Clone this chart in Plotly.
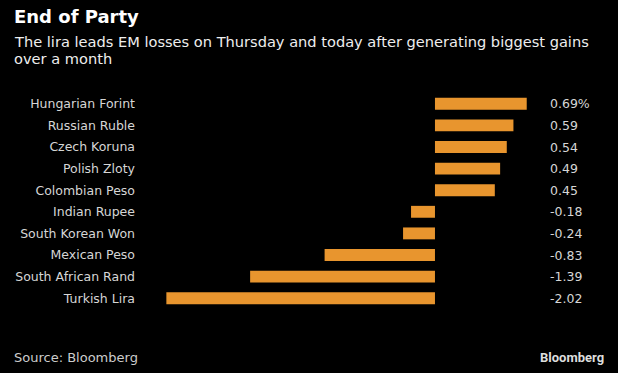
import plotly.graph_objects as go

categories = ["Hungarian Forint", "Russian Ruble", "Czech Koruna", "Polish Zloty",
              "Colombian Peso", "Indian Rupee", "South Korean Won", "Mexican Peso",
              "South African Rand", "Turkish Lira"]
values = [0.69, 0.59, 0.54, 0.49, 0.45, -0.18, -0.24, -0.83, -1.39, -2.02]
value_labels = ["0.69%", "0.59", "0.54", "0.49", "0.45", "-0.18", "-0.24", "-0.83", "-1.39", "-2.02"]

FONT = "DejaVu Sans"
BAR = "#E8952E"
W, H = 618, 373
ML, MR, MT, MB = 150, 18, 93, 64
PW, PH = W - ML - MR, H - MT - MB

fig = go.Figure()
fig.add_trace(go.Bar(
    x=values, y=categories, orientation="h",
    marker=dict(color=BAR, line=dict(width=0)),
    width=0.55, hoverinfo="skip",
))

fig.update_layout(
    width=W, height=H,
    paper_bgcolor="black", plot_bgcolor="black",
    margin=dict(l=ML, r=MR, t=MT, b=MB),
    showlegend=False,
    xaxis=dict(range=[-2.143, 1.241], visible=False, fixedrange=True),
    yaxis=dict(range=[9.5, -0.5], autorange=False, showgrid=False, zeroline=False,
               showline=False, ticks="", ticklabelstandoff=14, fixedrange=True,
               tickfont=dict(family=FONT, size=12.5, color="#d6d6d6")),
)

for c, lab in zip(categories, value_labels):
    fig.add_annotation(x=0.85, y=c, xref="x", yref="y", text=lab, showarrow=False,
                       xanchor="left", yanchor="middle",
                       font=dict(family=FONT, size=12.5, color="#d6d6d6"))

def txt(x, y, t, size, color, bold=False, xanchor="left", family=FONT):
    fig.add_annotation(x=(x - ML) / PW, y=(H - MB - y) / PH, xref="paper", yref="paper",
                       text=f"<b>{t}</b>" if bold else t, showarrow=False,
                       xanchor=xanchor, yanchor="middle", align="left",
                       font=dict(family=family, size=size, color=color))

txt(12, 16, "End of Party", 18, "#ffffff", bold=True)
txt(12, 41, "The lira leads EM losses on Thursday and today after generating biggest gains", 14.6, "#eeeeee")
txt(12, 58, "over a month", 14.6, "#eeeeee")
txt(12, 357, "Source: Bloomberg", 13, "#cccccc")
txt(606, 357, "Bloomberg", 13, "#dddddd", bold=True, xanchor="right", family="Roboto")

fig.write_html("out.html", config={"displayModeBar": False})
with open("out.html", "r", encoding="utf-8") as f:
    html = f.read()
html = html.replace("<head>", "<head><style>html,body{margin:0;padding:0;background:black;overflow:hidden;}</style>", 1)
with open("out.html", "w", encoding="utf-8") as f:
    f.write(html)
